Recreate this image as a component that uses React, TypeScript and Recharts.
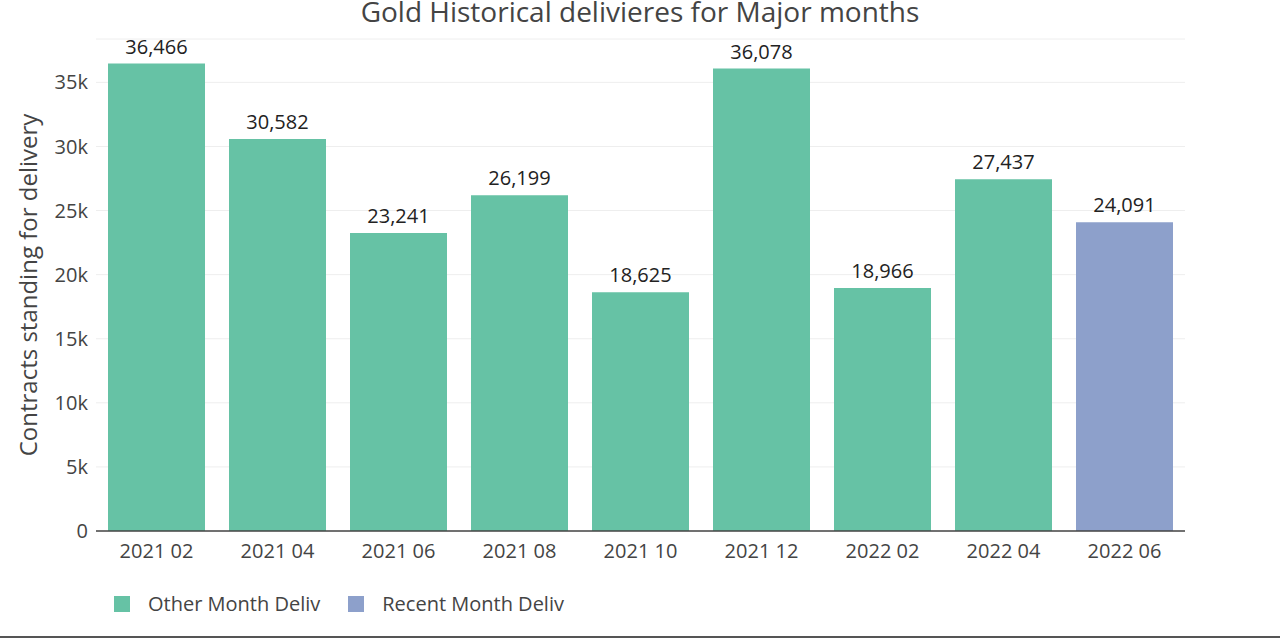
import React from "react";
import { BarChart, Bar, XAxis, YAxis, CartesianGrid, Cell, LabelList } from "recharts";

const months = ["2021 02", "2021 04", "2021 06", "2021 08", "2021 10", "2021 12", "2022 02", "2022 04", "2022 06"];
const deliveries = [36466, 30582, 23241, 26199, 18625, 36078, 18966, 27437, 24091];
const seriesOf = ["other", "other", "other", "other", "other", "other", "other", "other", "recent"];
const seriesNames = { other: "Other Month Deliv", recent: "Recent Month Deliv" };
const seriesColors = { other: "#66c2a5", recent: "#8da0cb" };
const yTicks = [0, 5000, 10000, 15000, 20000, 25000, 30000, 35000];

const data = months.map((m, i) => ({ month: m, value: deliveries[i], series: seriesOf[i] }));

const fmtK = (v: number) => (v === 0 ? "0" : v / 1000 + "k");
const fmtNum = (v: number) => v.toLocaleString("en-US");

export default function App() {
  return (
    <div
      style={{
        position: "absolute",
        left: 0,
        top: 0,
        width: 1280,
        height: 641,
        background: "#fff",
        fontFamily: '"Open Sans", sans-serif',
        color: "#444",
        overflow: "hidden",
      }}
    >
      <div
        style={{
          position: "absolute",
          top: -6,
          left: 0,
          width: 1280,
          textAlign: "center",
          fontSize: 28,
          lineHeight: "34px",
          color: "#444",
        }}
      >
        Gold Historical delivieres for Major months
      </div>
      <div
        style={{
          position: "absolute",
          left: 27,
          top: 285,
          transform: "translate(-50%, -50%) rotate(-90deg)",
          whiteSpace: "nowrap",
          fontSize: 24,
          color: "#444",
        }}
      >
        Contracts standing for delivery
      </div>
      <BarChart
        width={1280}
        height={641}
        data={data}
        margin={{ top: 39, right: 95, bottom: 80, left: 0 }}
        barCategoryGap={12}
      >
        <CartesianGrid vertical={false} stroke="#eeeeee" />
        <XAxis
          dataKey="month"
          height={30}
          tickLine={false}
          tickMargin={7}
          axisLine={{ stroke: "#444", strokeWidth: 1.5 }}
          tick={{ fill: "#444", fontSize: 20 }}
        />
        <YAxis
          width={96}
          domain={[0, 38385]}
          ticks={yTicks}
          tickFormatter={fmtK}
          axisLine={false}
          tickLine={false}
          tick={{ fill: "#444", fontSize: 20 }}
        />
        <Bar dataKey="value" isAnimationActive={false}>
          {data.map((d, i) => (
            <Cell key={i} fill={seriesColors[d.series as "other" | "recent"]} />
          ))}
          <LabelList
            dataKey="value"
            position="top"
            offset={10}
            formatter={(v: any) => fmtNum(Number(v))}
            style={{ fill: "#222", fontSize: 20 }}
          />
        </Bar>
      </BarChart>
      <div style={{ position: "absolute", left: 114, top: 590, display: "flex", alignItems: "center", fontSize: 20, color: "#444" }}>
        {(["other", "recent"] as const).map((k) => (
          <div key={k} style={{ display: "flex", alignItems: "center", marginRight: 28 }}>
            <span style={{ display: "inline-block", width: 16, height: 16, background: seriesColors[k], marginRight: 18 }} />
            <span>{seriesNames[k]}</span>
          </div>
        ))}
      </div>
      <div style={{ position: "absolute", left: 0, top: 636, width: 1280, height: 2, background: "#555" }} />
    </div>
  );
}
